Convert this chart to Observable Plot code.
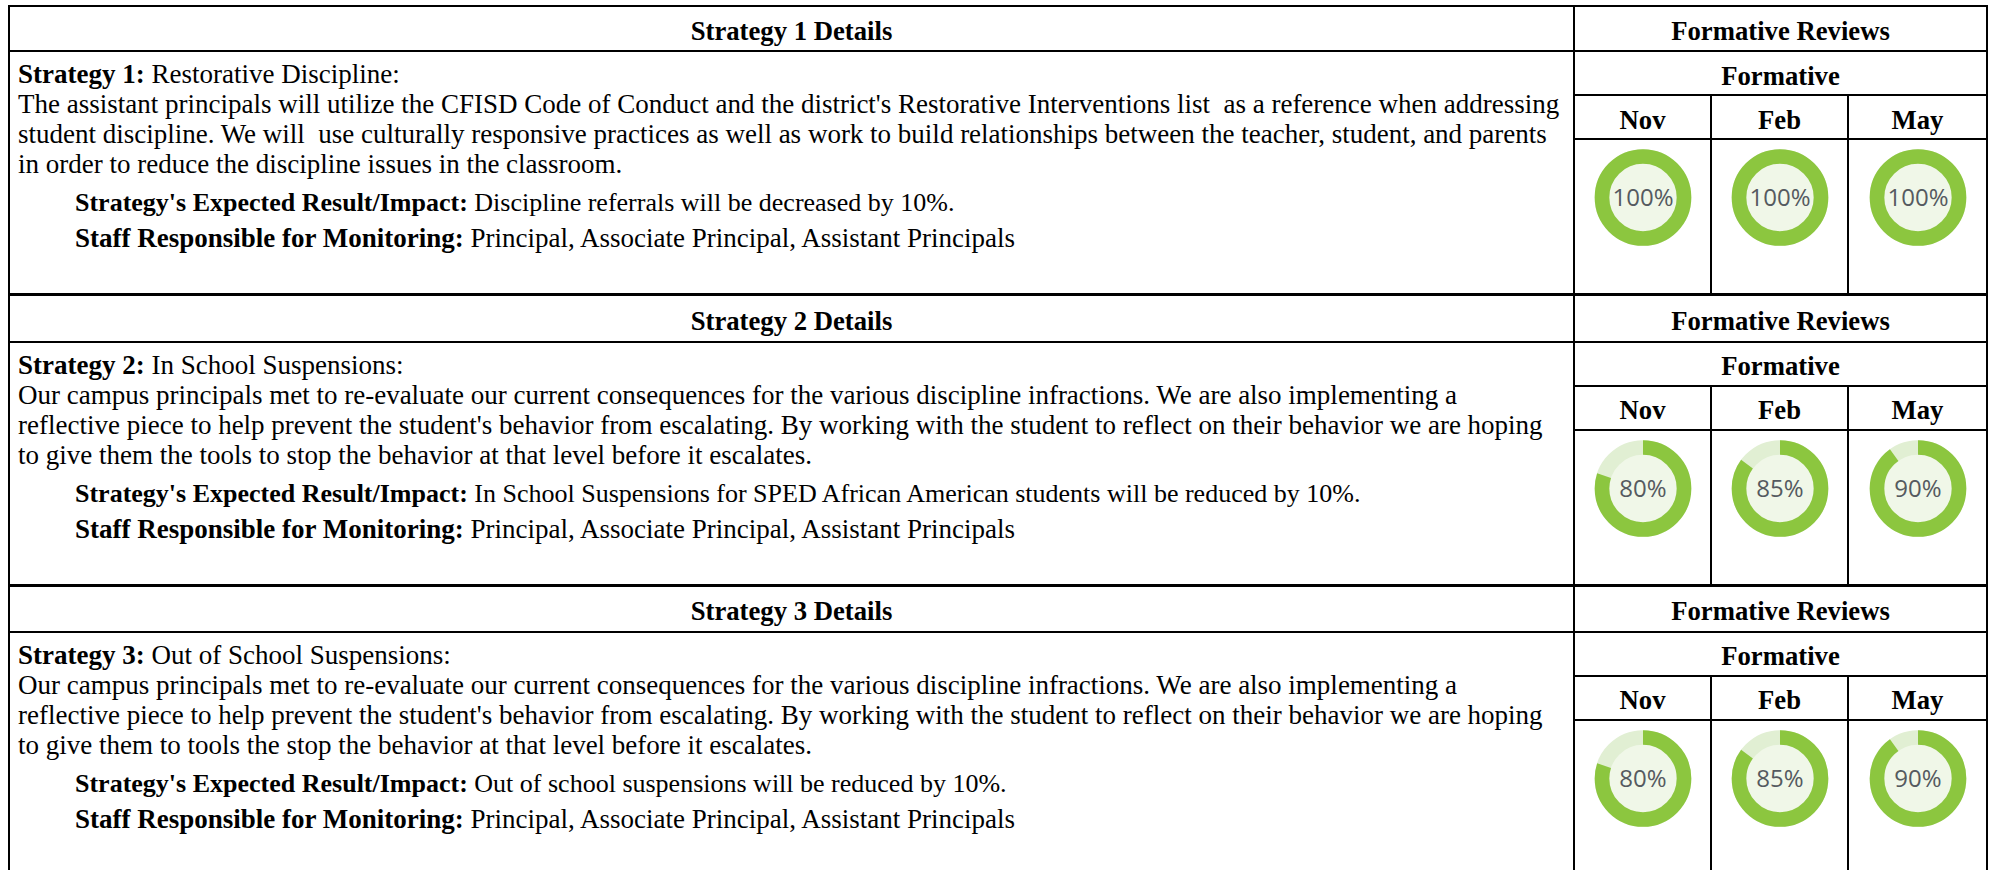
<!DOCTYPE html>
<html>
<head>
<meta charset="utf-8">
<script src="https://cdn.jsdelivr.net/npm/d3@7"></script>
<script src="https://cdn.jsdelivr.net/npm/@observablehq/plot@0.6"></script>
<style>
  html, body { margin: 0; padding: 0; background: #fff; width: 1993px; height: 870px; overflow: hidden; }
  #wrap { position: absolute; left: 8px; top: 5px; }
  table { border-collapse: collapse; table-layout: fixed; font-family: "Liberation Serif", "Times New Roman", serif; color: #000; }
  td { border: 2px solid #000; padding: 0; vertical-align: middle; }
  td.head { text-align: center; font-weight: bold; font-size: 26.7px; padding-top: 5px; line-height: 30px; }
  tr.blocktop td { border-top: 3px solid #000; }
  td.body { vertical-align: top; padding-left: 8px; font-size: 27px; }
  td.gauge { vertical-align: top; text-align: center; }
  .ln { white-space: pre; }
  .ind { padding-left: 57px; }
  .exp { font-size: 26px; }
  b { font-weight: bold; }
</style>
</head>
<body>
<div id="wrap"></div>
<script>
// ---------------- data ----------------
const months = ["Nov", "Feb", "May"];
const strategyNames = ["Restorative Discipline:", "In School Suspensions:", "Out of School Suspensions:"];
const descriptions = [
  [
    "The assistant principals will utilize the CFISD Code of Conduct and the district's Restorative Interventions list  as a reference when addressing",
    "student discipline. We will  use culturally responsive practices as well as work to build relationships between the teacher, student, and parents",
    "in order to reduce the discipline issues in the classroom."
  ],
  [
    "Our campus principals met to re-evaluate our current consequences for the various discipline infractions. We are also implementing a",
    "reflective piece to help prevent the student's behavior from escalating. By working with the student to reflect on their behavior we are hoping",
    "to give them the tools to stop the behavior at that level before it escalates."
  ],
  [
    "Our campus principals met to re-evaluate our current consequences for the various discipline infractions. We are also implementing a",
    "reflective piece to help prevent the student's behavior from escalating. By working with the student to reflect on their behavior we are hoping",
    "to give them to tools the stop the behavior at that level before it escalates."
  ]
];
const expectedResults = [
  "Discipline referrals will be decreased by 10%.",
  "In School Suspensions for SPED African American students will be reduced by 10%.",
  "Out of school suspensions will be reduced by 10%."
];
const staffResponsible = [
  "Principal, Associate Principal, Assistant Principals",
  "Principal, Associate Principal, Assistant Principals",
  "Principal, Associate Principal, Assistant Principals"
];
const novReview = [100, 80, 80];
const febReview = [100, 85, 85];
const mayReview = [100, 90, 90];

// ---------------- layout (styles only) ----------------
const colWidths = [1565, 137, 137, 139];
const rowHeights = [[45, 44, 44, 155], [47, 44, 44, 155.5], [46.5, 44, 44, 155]];
const textLayout = {pt: 7, lh: 30, gap1: 9, gap2: 5};
const GREEN = "#8cc63f", TRACK = "#e1efd3", INNER = "#f0f7e8";
const RING_R = 41, RING_W = 14.6;

// custom symbol: circle path starting at 12 o'clock, clockwise
const arcSymbol = {
  draw(ctx, size) {
    const r = Math.sqrt(size / Math.PI);
    ctx.moveTo(0, -r);
    ctx.arc(0, 0, r, -Math.PI / 2, 3 * Math.PI / 2);
  }
};

function gauge(month, value, w, h) {
  const data = [{month, value}];
  const C = 2 * Math.PI * RING_R;
  return Plot.plot({
    width: w,
    height: h,
    marginTop: 0,
    marginLeft: 0,
    marginRight: 0,
    marginBottom: h - 114,
    x: {type: "band", domain: [month], padding: 0, axis: null},
    style: {background: "transparent"},
    marks: [
      Plot.dot(data, {x: "month", r: RING_R, fill: INNER, stroke: TRACK, strokeWidth: RING_W}),
      Plot.dot(data, {
        x: "month", r: RING_R, symbol: arcSymbol, fill: "none", stroke: GREEN, strokeWidth: RING_W,
        strokeDasharray: `${C * value / 100} ${2 * C}`
      }),
      Plot.text(data, {
        x: "month", text: d => `${d.value}%`, fill: "#555a60",
        fontFamily: "Open Sans", fontSize: 24, dy: 1
      })
    ]
  });
}

// ---------------- build table ----------------
const table = document.createElement("table");
const totalW = colWidths.reduce((a, b) => a + b, 0) + 2;
table.style.width = totalW + "px";
const cg = document.createElement("colgroup");
colWidths.forEach(w => { const c = document.createElement("col"); c.style.width = w + "px"; cg.appendChild(c); });
table.appendChild(cg);

const reviews = [novReview, febReview, mayReview];
const esc = s => s.replace(/&/g, "&amp;").replace(/</g, "&lt;");
const L = textLayout;

strategyNames.forEach((name, i) => {
  const rh = rowHeights[i];

  const tr1 = document.createElement("tr");
  if (i > 0) tr1.className = "blocktop";
  tr1.style.height = rh[0] + "px";
  tr1.innerHTML = `<td class="head">Strategy ${i + 1} Details</td><td class="head" colspan="3">Formative Reviews</td>`;
  table.appendChild(tr1);

  const tr2 = document.createElement("tr");
  tr2.style.height = rh[1] + "px";
  const body = document.createElement("td");
  body.className = "body";
  body.rowSpan = 3;
  const inner = document.createElement("div");
  inner.style.paddingTop = L.pt + "px";
  inner.style.lineHeight = L.lh + "px";
  inner.innerHTML =
    `<div class="ln"><b>Strategy ${i + 1}:</b> ${esc(name)}</div>` +
    descriptions[i].map(t => `<div class="ln">${esc(t)}</div>`).join("") +
    `<div class="ln ind exp" style="margin-top:${L.gap1}px"><b>Strategy's Expected Result/Impact:</b> ${esc(expectedResults[i])}</div>` +
    `<div class="ln ind" style="margin-top:${L.gap2}px"><b>Staff Responsible for Monitoring:</b> ${esc(staffResponsible[i])}</div>`;
  body.appendChild(inner);
  tr2.appendChild(body);
  const f = document.createElement("td");
  f.className = "head"; f.colSpan = 3; f.textContent = "Formative";
  tr2.appendChild(f);
  table.appendChild(tr2);

  const tr3 = document.createElement("tr");
  tr3.style.height = rh[2] + "px";
  months.forEach(m => { const td = document.createElement("td"); td.className = "head"; td.textContent = m; tr3.appendChild(td); });
  table.appendChild(tr3);

  const tr4 = document.createElement("tr");
  tr4.style.height = rh[3] + "px";
  months.forEach((m, j) => {
    const td = document.createElement("td");
    td.className = "gauge";
    td.appendChild(gauge(m, reviews[j][i], colWidths[j + 1] - 2, Math.floor(rh[3] - 2)));
    tr4.appendChild(td);
  });
  table.appendChild(tr4);
});

document.getElementById("wrap").appendChild(table);
</script>
</body>
</html>
